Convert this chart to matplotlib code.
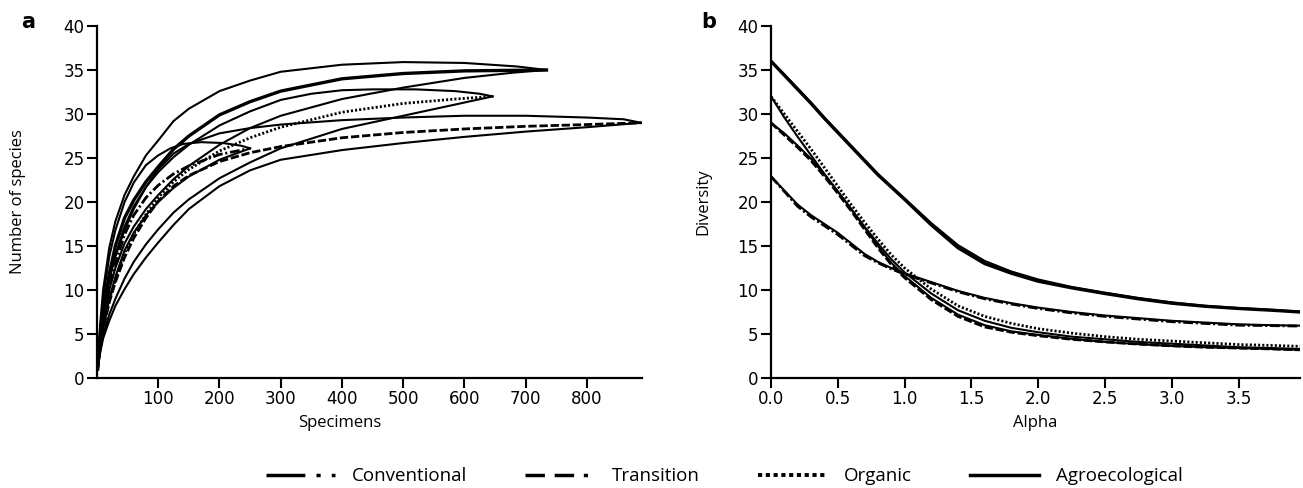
import matplotlib
matplotlib.use("Agg")
import matplotlib.pyplot as plt
from matplotlib.lines import Line2D

plt.rcParams['font.family'] = ['DejaVu Sans']
plt.rcParams['lines.scale_dashes'] = False

# ---- panel a: rarefaction curves (mean + upper/lower bounds) ----
agro_up_x = [1, 5, 10, 20, 30, 45, 60, 80, 100, 125, 150, 200, 250, 300, 400, 500, 600, 686, 734]
agro_up_y = [1, 6, 10, 14.8, 17.8, 20.8, 22.9, 25.3, 27, 29.2, 30.6, 32.6, 33.8, 34.8, 35.6, 35.9, 35.8, 35.4, 35]
agro_mean_x = [1, 5, 10, 20, 30, 45, 60, 80, 100, 125, 150, 200, 250, 300, 400, 500, 600, 734]
agro_mean_y = [1, 4.5, 7.5, 11.8, 15, 18.2, 20.2, 22.3, 24, 26, 27.5, 29.9, 31.4, 32.6, 34, 34.6, 34.9, 35]
agro_lo_x = [1, 5, 10, 20, 30, 45, 60, 80, 100, 125, 150, 200, 250, 300, 400, 500, 600, 680, 734]
agro_lo_y = [1, 4, 6.5, 10, 12.5, 15.3, 17.2, 19.2, 20.8, 22.6, 24.1, 26.5, 28.4, 29.8, 31.7, 33, 34.1, 34.7, 35]

org_up_x = [1, 5, 10, 20, 30, 45, 60, 80, 100, 125, 150, 200, 250, 300, 350, 400, 450, 520, 585, 625, 646]
org_up_y = [1, 4.5, 7.2, 11, 14, 17.2, 19.5, 21.7, 23.4, 25.1, 26.5, 28.7, 30.3, 31.6, 32.3, 32.7, 32.8, 32.8, 32.6, 32.3, 32]
org_mean_x = [1, 5, 10, 20, 30, 45, 60, 80, 100, 125, 150, 200, 250, 300, 400, 500, 585, 646]
org_mean_y = [1, 3.6, 5.8, 8.8, 11.2, 14.2, 16.4, 18.6, 20.5, 22.3, 23.7, 25.8, 27.3, 28.5, 30.2, 31.2, 31.7, 32]
org_lo_x = [1, 5, 10, 20, 30, 45, 60, 80, 100, 125, 150, 200, 250, 300, 400, 500, 580, 646]
org_lo_y = [1, 3, 4.8, 7.2, 9, 11.3, 13.2, 15.2, 16.9, 18.8, 20.3, 22.7, 24.5, 26.1, 28.3, 29.8, 31, 32]

trans_up_x = [1, 5, 10, 20, 30, 45, 60, 80, 100, 125, 150, 200, 250, 300, 400, 500, 600, 700, 800, 860, 889]
trans_up_y = [1, 5, 8, 11.5, 13.8, 16.8, 19.2, 21.7, 23.7, 25.5, 26.6, 27.8, 28.4, 28.8, 29.3, 29.6, 29.8, 29.8, 29.6, 29.4, 29]
trans_mean_x = [1, 5, 10, 20, 30, 45, 60, 80, 100, 125, 150, 200, 250, 300, 400, 500, 600, 700, 800, 889]
trans_mean_y = [1, 3.5, 5.5, 8.6, 10.9, 13.7, 15.9, 18.2, 20.1, 21.8, 23, 24.6, 25.6, 26.3, 27.3, 27.9, 28.3, 28.6, 28.8, 29]
trans_lo_x = [1, 5, 10, 20, 30, 45, 60, 80, 100, 125, 150, 200, 250, 300, 400, 500, 600, 700, 800, 889]
trans_lo_y = [1, 2.8, 4.5, 6.5, 8.2, 10.1, 11.8, 13.7, 15.4, 17.4, 19.2, 21.8, 23.6, 24.8, 25.9, 26.7, 27.4, 28, 28.5, 29]

conv_up_x = [1, 5, 10, 20, 30, 45, 60, 80, 100, 120, 141, 170, 206, 235, 250]
conv_up_y = [1, 5.5, 9, 13.8, 16.8, 20, 22.2, 24.2, 25.3, 26.1, 26.6, 26.8, 26.7, 26.4, 26.1]
conv_mean_x = [1, 5, 10, 20, 30, 45, 60, 80, 100, 125, 150, 200, 250]
conv_mean_y = [1, 4, 6.5, 10.3, 13, 16.3, 18.5, 20.5, 21.9, 23.2, 24.1, 25.4, 26.1]
conv_lo_x = [1, 5, 10, 20, 30, 45, 60, 80, 100, 125, 150, 200, 250]
conv_lo_y = [1, 3.5, 5.5, 9, 11.5, 14.5, 16.5, 18.5, 20, 21.6, 22.9, 24.8, 26.1]

# ---- panel b: diversity profiles ----
alpha = [0, 0.1, 0.2, 0.3, 0.4, 0.5, 0.6, 0.7, 0.8, 0.9, 1.0, 1.2, 1.4, 1.6, 1.8, 2.0,
         2.25, 2.5, 2.75, 3.0, 3.25, 3.5, 3.75, 3.96]
agro_div = [36, 34.4, 32.8, 31.2, 29.5, 27.9, 26.3, 24.7, 23.1, 21.7, 20.3, 17.4, 14.8, 13.0,
            11.9, 11.0, 10.25, 9.6, 9.0, 8.5, 8.15, 7.9, 7.7, 7.5]
agro_div2 = [36, 34.5, 32.9, 31.3, 29.6, 28.0, 26.4, 24.8, 23.2, 21.8, 20.4, 17.6, 15.1, 13.3,
             12.1, 11.2, 10.35, 9.7, 9.1, 8.6, 8.2, 7.95, 7.75, 7.55]
conv_div = [22.9, 21.2, 19.5, 18.3, 17.3, 16.3, 15.1, 13.9, 13.1, 12.4, 11.8, 10.8, 9.8, 9.0,
            8.4, 7.9, 7.4, 7.0, 6.7, 6.4, 6.2, 6.0, 5.95, 5.9]
conv_div2 = [22.9, 21.3, 19.7, 18.5, 17.5, 16.5, 15.3, 14.1, 13.2, 12.5, 11.9, 10.9, 9.9, 9.1,
             8.5, 8.0, 7.5, 7.1, 6.8, 6.5, 6.3, 6.1, 6.0, 5.95]
trans_div = [29, 27.6, 26.2, 24.7, 22.9, 21.0, 19.0, 16.9, 14.8, 12.9, 11.4, 8.9, 7.0, 5.8,
             5.2, 4.8, 4.4, 4.1, 3.85, 3.65, 3.5, 3.4, 3.3, 3.2]
trans_div2 = [29, 27.8, 26.4, 24.9, 23.1, 21.2, 19.2, 17.1, 15.0, 13.1, 11.6, 9.1, 7.2, 6.0,
              5.3, 4.9, 4.45, 4.1, 3.85, 3.65, 3.5, 3.4, 3.3, 3.2]
org_div = [32, 30.0, 28.0, 26.0, 23.9, 21.8, 19.7, 17.7, 15.8, 14.0, 12.5, 10.1, 8.2, 7.0,
           6.2, 5.6, 5.1, 4.7, 4.4, 4.2, 4.0, 3.8, 3.7, 3.6]
org_div2 = [32, 29.6, 27.4, 25.3, 23.2, 21.2, 19.2, 17.2, 15.3, 13.5, 12.0, 9.6, 7.7, 6.5,
            5.7, 5.2, 4.7, 4.4, 4.1, 3.9, 3.7, 3.5, 3.4, 3.3]

labels = ["Conventional", "Transition", "Organic", "Agroecological"]

conv_dash = (7, 2, 1.5, 2)
trans_dash = (6, 2)
org_dash = (1.5, 1.5)

fig = plt.figure(figsize=(13.03, 4.88), dpi=100)
ax1 = fig.add_axes([97 / 1303, 110 / 488, 545 / 1303, 352 / 488])
ax2 = fig.add_axes([771 / 1303, 110 / 488, 529 / 1303, 352 / 488])

ci_lw = 1.5
mean_lw = 2.0

# panel a
for xs, ys in [(agro_up_x, agro_up_y), (agro_lo_x, agro_lo_y),
               (org_up_x, org_up_y), (org_lo_x, org_lo_y),
               (trans_up_x, trans_up_y), (trans_lo_x, trans_lo_y),
               (conv_up_x, conv_up_y), (conv_lo_x, conv_lo_y)]:
    ax1.plot(xs, ys, color='black', lw=ci_lw, solid_joinstyle='round')
ax1.plot(agro_mean_x, agro_mean_y, color='black', lw=2.4, solid_joinstyle='round')
ax1.plot(org_mean_x, org_mean_y, color='black', lw=mean_lw, dashes=org_dash)
ax1.plot(trans_mean_x, trans_mean_y, color='black', lw=mean_lw, dashes=trans_dash)
ax1.plot(conv_mean_x, conv_mean_y, color='black', lw=mean_lw, dashes=conv_dash)

ax1.set_xlim(0, 890)
ax1.set_ylim(0, 40)
ax1.set_xticks([100, 200, 300, 400, 500, 600, 700, 800])
ax1.set_yticks(range(0, 41, 5))
ax1.set_xlabel("Specimens", fontsize=12, family='Open Sans')
ax1.set_ylabel("Number of species", fontsize=12, family='Open Sans')
ax1.xaxis.set_label_coords(0.446, -0.105)
ax1.yaxis.set_label_coords(-0.130, 0.5)

# panel b
ax2.plot(alpha, agro_div2, color='black', lw=ci_lw, solid_joinstyle='round')
ax2.plot(alpha, agro_div, color='black', lw=2.4, solid_joinstyle='round')
ax2.plot(alpha, conv_div2, color='black', lw=ci_lw, solid_joinstyle='round')
ax2.plot(alpha, conv_div, color='black', lw=mean_lw, dashes=conv_dash)
ax2.plot(alpha, trans_div2, color='black', lw=ci_lw, solid_joinstyle='round')
ax2.plot(alpha, trans_div, color='black', lw=mean_lw, dashes=trans_dash)
ax2.plot(alpha, org_div2, color='black', lw=ci_lw, solid_joinstyle='round')
ax2.plot(alpha, org_div, color='black', lw=mean_lw, dashes=org_dash)

ax2.set_xlim(0, 3.96)
ax2.set_ylim(0, 40)
ax2.set_xticks([0, 0.5, 1.0, 1.5, 2.0, 2.5, 3.0, 3.5])
ax2.set_xticklabels(["0.0", "0.5", "1.0", "1.5", "2.0", "2.5", "3.0", "3.5"])
ax2.set_yticks(range(0, 41, 5))
ax2.set_xlabel("Alpha", fontsize=12, family='Open Sans')
ax2.set_ylabel("Diversity", fontsize=12, family='Open Sans')
ax2.xaxis.set_label_coords(0.5, -0.105)
ax2.yaxis.set_label_coords(-0.113, 0.5)

for ax in (ax1, ax2):
    for side in ('top', 'right'):
        ax.spines[side].set_visible(False)
    for side in ('left', 'bottom'):
        ax.spines[side].set_linewidth(1.6)
    ax.tick_params(direction='out', length=7, width=1.5, labelsize=12, pad=2)

fig.text(28 / 1303, 1 - 22 / 488, "a", fontsize=15, fontweight='bold', ha='center', va='center')
fig.text(709 / 1303, 1 - 22 / 488, "b", fontsize=15, fontweight='bold', ha='center', va='center')

# legend
handles = [
    Line2D([], [], color='black', lw=2.5, dashes=(28, 8, 3, 8)),
    Line2D([], [], color='black', lw=2.5, dashes=(14, 7, 14, 7, 3, 7)),
    Line2D([], [], color='black', lw=2.8, dashes=(3, 2.6)),
    Line2D([], [], color='black', lw=2.5),
]
fig.legend(handles, labels, loc='center', bbox_to_anchor=(0.556, 0.024), ncol=4,
           frameon=False, handlelength=3.7, handletextpad=0.9, columnspacing=3.1,
           prop={'family': 'Open Sans', 'size': 13.5})

fig.savefig("out.png", dpi=100)
